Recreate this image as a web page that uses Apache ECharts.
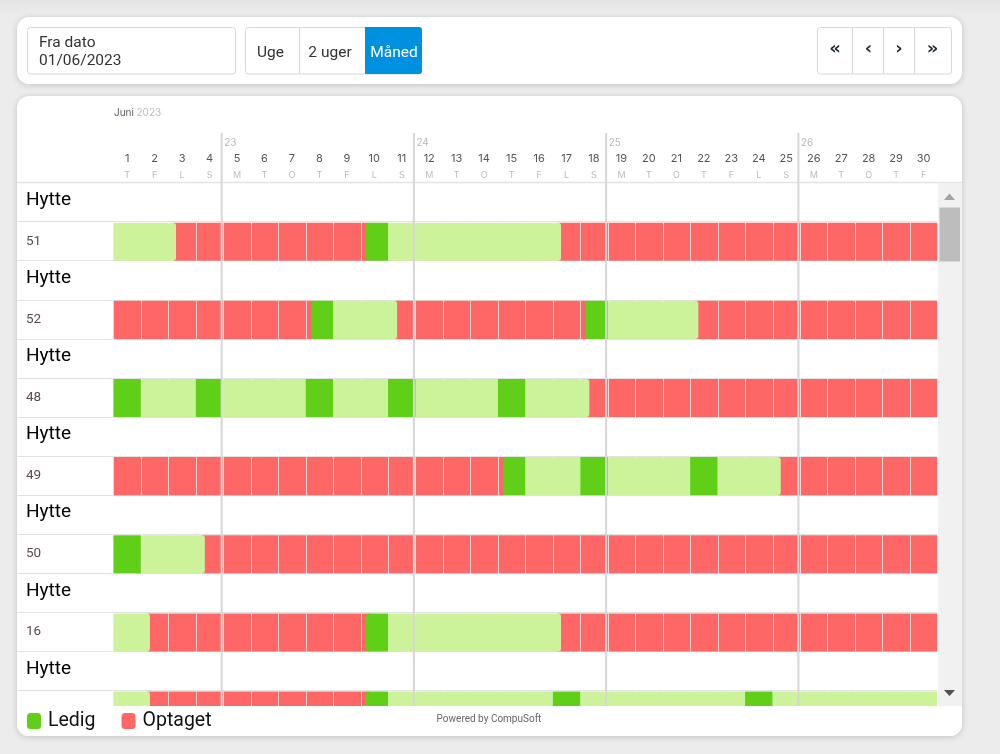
<!DOCTYPE html>
<html>

	<head>
		<meta charset="UTF-8">
		<title>Booking kalender</title>
		<script src="https://cdn.jsdelivr.net/npm/echarts@6/dist/echarts.min.js"></script>
		<style>
			html, body {
				margin: 0;
				padding: 0;
				background: linear-gradient(#e4e4e4, #ececec 16px);
			}
			#main {
				width: 1000px;
				height: 754px;
			}
		</style>
	</head>

	<body>
		<div id="main"></div>
		<script type="text/javascript">
			var days = ['1','2','3','4','5','6','7','8','9','10','11','12','13','14','15','16','17','18','19','20','21','22','23','24','25','26','27','28','29','30'];
			var weekdays = ['T','F','L','S','M','T','O','T','F','L','S','M','T','O','T','F','L','S','M','T','O','T','F','L','S','M','T','O','T','F'];
			var rows = ['Hytte','51','Hytte','52','Hytte','48','Hytte','49','Hytte','50','Hytte','16','Hytte',''];
			// uge nummer og hvor mange dage inde den starter
			var weekNumbers = ['23','24','25','26'];
			var weekStarts = [4, 11, 18, 25];

			// [fra dag, til dag, status] l = lys groen, g = ledig, r = optaget
			var cabin51 = [[0,2.28,'l'],[2.28,9.2,'r'],[9.2,10,'g'],[10,16.3,'l'],[16.3,30,'r']];
			var cabin52 = [[0,7.2,'r'],[7.2,8,'g'],[8,10.33,'l'],[10.33,17.2,'r'],[17.2,18,'g'],[18,21.3,'l'],[21.3,30,'r']];
			var cabin48 = [[0,1,'g'],[1,3,'l'],[3,3.95,'g'],[3.95,7,'l'],[7,8,'g'],[8,10,'l'],[10,11,'g'],[11,14,'l'],[14,15,'g'],[15,17.33,'l'],[17.33,30,'r']];
			var cabin49 = [[0,14.2,'r'],[14.2,15,'g'],[15,17,'l'],[17,18,'g'],[18,21,'l'],[21,22,'g'],[22,24.3,'l'],[24.3,30,'r']];
			var cabin50 = [[0,1,'g'],[1,3.33,'l'],[3.33,30,'r']];
			var cabin16 = [[0,1.33,'l'],[1.33,9.2,'r'],[9.2,10,'g'],[10,16.3,'l'],[16.3,30,'r']];
			var cabinLast = [[0,1.33,'l'],[1.33,9.2,'r'],[9.2,10,'g'],[10,16,'l'],[16,17,'g'],[17,23,'l'],[23,24,'g'],[24,30,'l']];
			var cabins = [cabin51, cabin52, cabin48, cabin49, cabin50, cabin16, cabinLast];

			var red = '#ff6666';
			var green = '#60cf18';
			var lightGreen = '#ccf29a';
			var fontName = 'Roboto';
			var headFont = 'Inter';

			function segments(state) {
				var list = [];
				cabins.forEach(function(cabin, c) {
					cabin.forEach(function(s, i) {
						if (s[2] == state) {
							var before = i > 0 && cabin[i - 1][2] == 'r' ? 1 : 0;
							var after = i < cabin.length - 1 && cabin[i + 1][2] == 'r' ? 1 : 0;
							list.push([s[0], s[1], c * 2 + 1, before, after]);
						}
					});
				});
				return list;
			}

			function renderSegment(params, api) {
				var start = api.coord([api.value(0), api.value(2)]);
				var end = api.coord([api.value(1), api.value(2)]);
				var h = api.size([0, 1])[1];
				var y = start[1] - h / 2 + 1;
				var color = api.style().fill;
				var r1 = api.value(3) ? 3 : 0;
				var r2 = api.value(4) ? 3 : 0;
				var x0 = start[0];
				var x1 = end[0];
				// roed ligger under de runde hjoerner paa de groenne
				if (color == red) {
					if (api.value(0) > 0) x0 -= 3;
					if (api.value(1) < 30) x1 += 3;
				}
				var children = [{
					type: 'rect',
					shape: { x: x0, y: y, width: x1 - x0, height: h - 1, r: [r1, r2, r2, r1] },
					style: { fill: color }
				}];
				// streger mellem dagene, paa de lyse kun et lille hak i toppen
				if (color != green) {
					for (var d = Math.ceil(api.value(0)); d < api.value(1); d++) {
						var x = Math.round(api.coord([d, 0])[0]) + 0.5;
						children.push({
							type: 'line',
							shape: { x1: x, y1: y, x2: x, y2: color == red ? y + h - 1 : y + 1 },
							style: { stroke: color == red ? '#f3d4d4' : '#f2f7e8', lineWidth: 1 }
						});
					}
				}
				return { type: 'group', children: children };
			}

			function renderWeek(params, api) {
				var x = api.coord([api.value(0), 0])[0] - 1.6;
				return {
					type: 'group',
					children: [{
						type: 'line',
						shape: { x1: x, y1: 133, x2: x, y2: 706 },
						style: { stroke: '#d6d6d6', lineWidth: 2 }
					}, {
						type: 'text',
						style: { text: weekNumbers[params.dataIndex], x: x + 2.5, y: 138, fill: '#b8b8b8', fontSize: 10, fontFamily: headFont }
					}]
				};
			}

			function box(x, y, w, h, r, fill, stroke, z) {
				return {
					type: 'rect',
					silent: true,
					z: z,
					shape: { x: x, y: y, width: w, height: h, r: r },
					style: { fill: fill, stroke: stroke || null, lineWidth: 1 }
				};
			}

			function card(x, y, w, h) {
				var c = box(x, y, w, h, 12, '#fff', null, -1);
				c.style.shadowBlur = 6;
				c.style.shadowOffsetY = 1;
				c.style.shadowColor = 'rgba(0,0,0,0.18)';
				return c;
			}

			function label(text, x, y, size, color, align, weight, z, font) {
				return {
					type: 'text',
					silent: true,
					z: z || 1,
					style: {
						text: text, x: x, y: y, fill: color, fontSize: size, fontFamily: font || fontName,
						fontWeight: weight || 'normal', align: align || 'left', verticalAlign: 'middle'
					}
				};
			}

			function vline(x, y1, y2, color) {
				return {
					type: 'line',
					silent: true,
					z: 1,
					shape: { x1: x, y1: y1, x2: x, y2: y2 },
					style: { stroke: color, lineWidth: 1 }
				};
			}

			var graphics = [
				card(17, 17, 945, 67),
				card(17, 96, 945, 640),
				// dato felt
				box(27.5, 27.5, 208, 46.5, 3, '#fff', '#d8d8d8', 0),
				label('Fra dato', 39, 43, 15.5, '#333'),
				label('01/06/2023', 39, 61, 15.5, '#333'),
				// visning knapper
				box(245.5, 27.5, 176, 46.5, 3, '#fff', '#d8d8d8', 0),
				vline(299.5, 28, 74, '#d8d8d8'),
				box(365, 27, 57, 47, [0, 3, 3, 0], '#0090e0', null, 1),
				label('Uge', 270.5, 53, 15.5, '#333', 'center'),
				label('2 uger', 330, 53, 15.5, '#333', 'center'),
				label('Måned', 394, 53, 15.5, '#fff', 'center'),
				// frem og tilbage
				box(817.5, 27.5, 134, 46.5, 3, '#fff', '#d8d8d8', 0),
				vline(852.5, 28, 74, '#d8d8d8'),
				vline(883.5, 28, 74, '#d8d8d8'),
				vline(914.5, 28, 74, '#d8d8d8'),
				label('«', 835, 49, 18, '#1d2733', 'center', 'bold', 1, 'DejaVu Sans'),
				label('‹', 868.5, 49, 18, '#1d2733', 'center', 'bold', 1, 'DejaVu Sans'),
				label('›', 899, 49, 18, '#1d2733', 'center', 'bold', 1, 'DejaVu Sans'),
				label('»', 932.5, 49, 18, '#1d2733', 'center', 'bold', 1, 'DejaVu Sans'),
				// maaned
				label('Juni', 114, 113, 10, '#5f5f6b', 'left', 'normal', 1, headFont),
				label('2023', 136.5, 113, 10, '#bdbdbd', 'left', 'normal', 1, headFont),
				{
					type: 'line',
					silent: true,
					z: 1,
					shape: { x1: 17, y1: 182.5, x2: 962, y2: 182.5 },
					style: { stroke: '#e4e4e4', lineWidth: 1.5 }
				},
				// bunden daekker de raekker der er scrollet ud
				box(17, 706, 945, 30, [0, 0, 12, 12], '#fff', null, 10),
				label('Powered by CompuSoft', 489, 719.5, 10, '#666', 'center', 'normal', 11),
				// scrollbar
				box(938, 183, 24, 523, 0, '#f1f1f1', null, 10),
				box(939.5, 207.5, 20.5, 54, 0, '#bdbdbd', null, 11),
				{
					type: 'polygon',
					silent: true,
					z: 11,
					shape: { points: [[944, 200], [955, 200], [949.5, 193.5]] },
					style: { fill: '#a3a3a3' }
				},
				{
					type: 'polygon',
					silent: true,
					z: 11,
					shape: { points: [[944, 690], [955, 690], [949.5, 696]] },
					style: { fill: '#505050' }
				}
			];

			var myChart = echarts.init(document.getElementById('main'));
			var option = {
				animation: false,
				backgroundColor: 'transparent',
				textStyle: { fontFamily: fontName },
				graphic: { elements: graphics },
				legend: {
					z: 20,
					left: 27,
					top: 711,
					padding: 0,
					itemWidth: 14,
					itemHeight: 16,
					itemGap: 26,
					icon: 'roundRect',
					selectedMode: false,
					data: ['Ledig', 'Optaget'],
					textStyle: { fontFamily: fontName, fontSize: 19.5, color: '#111', padding: [3, 0, 0, 2] }
				},
				grid: { left: 113.4, top: 182.6, width: 823.9, height: 547 },
				xAxis: [{
					type: 'category',
					position: 'top',
					data: days,
					axisLine: { show: false },
					axisTick: { show: false },
					splitLine: { show: false },
					axisLabel: {
						interval: 0,
						margin: -1,
						formatter: function(value, index) {
							return '{d|' + value + '}\n{w|' + weekdays[index] + '}';
						},
						rich: {
							d: { fontSize: 11, color: '#555', lineHeight: 17, fontFamily: headFont },
							w: { fontSize: 9, color: '#bbb', lineHeight: 16, fontFamily: headFont }
						}
					}
				}, {
					type: 'value',
					min: 0,
					max: 30,
					interval: 1,
					show: false
				}],
				yAxis: {
					type: 'category',
					inverse: true,
					data: rows,
					axisLine: { show: false },
					axisTick: { show: true, length: 96, lineStyle: { color: '#e2e2e2' } },
					splitLine: { show: true, lineStyle: { color: '#e2e2e2' } },
					axisLabel: {
						interval: 0,
						margin: 87.4,
						align: 'left',
						formatter: function(value) {
							return value == 'Hytte' ? '{h|' + value + '}' : '{n|' + value + '}';
						},
						rich: {
							h: { fontSize: 19, color: '#000', padding: [0, 0, 4, 0], fontFamily: fontName },
							n: { fontSize: 13.5, color: '#5a4a50', fontFamily: fontName }
						}
					}
				},
				series: [{
					name: 'Optaget',
					type: 'custom',
					xAxisIndex: 1,
					renderItem: renderSegment,
					itemStyle: { color: red },
					encode: { x: [0, 1], y: 2 },
					silent: true,
					data: segments('r')
				}, {
					name: 'Delvis',
					type: 'custom',
					xAxisIndex: 1,
					renderItem: renderSegment,
					itemStyle: { color: lightGreen },
					encode: { x: [0, 1], y: 2 },
					silent: true,
					data: segments('l')
				}, {
					name: 'Ledig',
					type: 'custom',
					xAxisIndex: 1,
					renderItem: renderSegment,
					itemStyle: { color: green },
					encode: { x: [0, 1], y: 2 },
					silent: true,
					data: segments('g')
				}, {
					name: 'Uger',
					type: 'custom',
					xAxisIndex: 1,
					z: 5,
					renderItem: renderWeek,
					encode: { x: 0, y: 1 },
					silent: true,
					data: weekStarts.map(function(d) { return [d, 0]; })
				}]
			};
			myChart.setOption(option);
		</script>
	</body>

</html>
